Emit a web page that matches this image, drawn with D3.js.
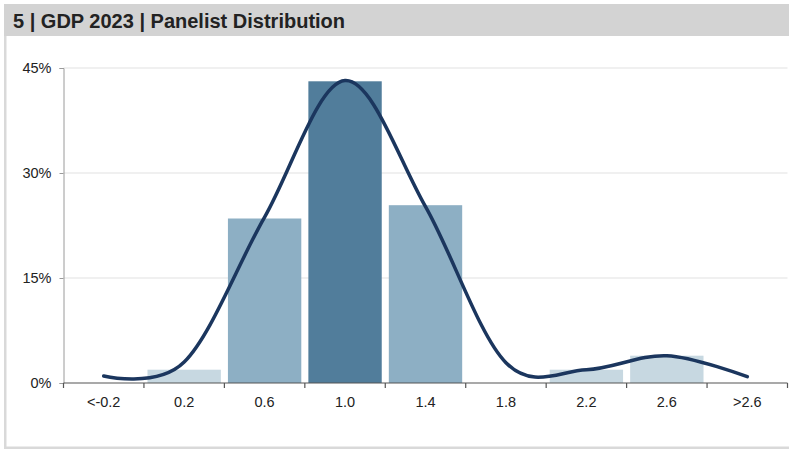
<!DOCTYPE html>
<html>
<head>
<meta charset="utf-8">
<script src="https://cdn.jsdelivr.net/npm/d3@7"></script>
<style>
  html, body { margin: 0; padding: 0; background: #fff; }
  svg { display: block; font-family: "Liberation Sans", Arial, sans-serif; }
</style>
</head>
<body>
<svg id="chart" width="789" height="450"></svg>
<script>
// Forecast bins for GDP growth 2023
const categories = ["<-0.2", "0.2", "0.6", "1.0", "1.4", "1.8", "2.2", "2.6", ">2.6"];
// Share of panelists per bin (%)
const shares = [0, 1.9, 23.5, 43.1, 25.4, 0, 1.9, 3.9, 0];
// Smoothed distribution line (%), one value per bin
const smoothed = [1.0, 3.0, 23.7, 43.2, 25.2, 2.9, 1.9, 3.9, 0.9];
// Shade group per bin: 0 light, 1 medium, 2 dark (the modal bin)
const shadeGroup = [0, 0, 1, 2, 1, 0, 0, 0, 0];
const yTicks = [0, 15, 30, 45];

const shadeColors = ["#c7d8e1", "#8dafc4", "#517d9b"];
const lineColor = "#1b365e";

const svg = d3.select("#chart");
const W = 789, H = 450;

// Panel frame: grey header band and left/bottom rules
svg.append("rect").attr("x", 4).attr("y", 4).attr("width", W - 4).attr("height", 32).attr("fill", "#d3d3d3");
svg.append("rect").attr("x", 4).attr("y", 36).attr("width", 2.5).attr("height", 413).attr("fill", "#d9d9d9");
svg.append("rect").attr("x", 4).attr("y", 446.5).attr("width", W - 4).attr("height", 2.5).attr("fill", "#d9d9d9");

svg.append("text")
  .attr("x", 13).attr("y", 27.5)
  .attr("font-size", 20).attr("font-weight", "bold").attr("fill", "#222")
  .text("5 | GDP 2023 | Panelist Distribution");

const plot = { left: 63.5, right: 787.5, top: 68, bottom: 383 };

const x = d3.scaleBand()
  .domain(categories)
  .range([plot.left, plot.right])
  .paddingInner(0.088)
  .paddingOuter(0.044);

const xPos = d3.scalePoint()
  .domain(categories)
  .range([plot.left, plot.right])
  .padding(0.5);

const y = d3.scaleLinear().domain([0, 45]).range([plot.bottom, plot.top]);

// Horizontal gridlines
svg.append("g")
  .selectAll("line")
  .data(yTicks.filter(d => d > 0))
  .join("line")
  .attr("x1", plot.left).attr("x2", plot.right)
  .attr("y1", d => y(d)).attr("y2", d => y(d))
  .attr("stroke", "#e1e1e1").attr("stroke-width", 1);

// Y axis
const yAxis = svg.append("g")
  .attr("transform", `translate(${plot.left},0)`)
  .call(d3.axisLeft(y).tickValues(yTicks).tickFormat(d => d + "%").tickSize(4).tickPadding(8));
yAxis.select(".domain").attr("stroke", "#9a9a9a");
yAxis.selectAll(".tick line").attr("stroke", "#9a9a9a");
yAxis.selectAll("text").attr("font-size", 14.5).attr("fill", "#222")
  .attr("font-family", "'Liberation Sans', Arial, sans-serif");

// Bars
svg.append("g")
  .selectAll("rect")
  .data(categories.map((c, i) => ({ c, v: shares[i], g: shadeGroup[i] })).filter(d => d.v > 0))
  .join("rect")
  .attr("x", d => x(d.c))
  .attr("width", x.bandwidth())
  .attr("y", d => y(d.v))
  .attr("height", d => y(0) - y(d.v))
  .attr("fill", d => shadeColors[d.g]);

// X axis with ticks at bin boundaries
const step = x.step();
const boundaries = d3.range(categories.length + 1).map(i => plot.left + i * step);
const xAxisG = svg.append("g");
xAxisG.append("line")
  .attr("x1", plot.left).attr("x2", plot.right)
  .attr("y1", plot.bottom).attr("y2", plot.bottom)
  .attr("stroke", "#555").attr("stroke-width", 1.2);
xAxisG.selectAll("line.tk")
  .data(boundaries)
  .join("line")
  .attr("class", "tk")
  .attr("x1", d => d).attr("x2", d => d)
  .attr("y1", plot.bottom).attr("y2", plot.bottom + 5)
  .attr("stroke", "#555").attr("stroke-width", 1.2);
xAxisG.selectAll("text")
  .data(categories)
  .join("text")
  .attr("x", d => xPos(d))
  .attr("y", 407)
  .attr("text-anchor", "middle")
  .attr("font-size", 14.5).attr("fill", "#222")
  .text(d => d);

// Smoothed distribution line
const line = d3.line()
  .x((d, i) => xPos(categories[i]))
  .y(d => y(d))
  .curve(d3.curveCardinal.tension(0));

svg.append("path")
  .datum(smoothed)
  .attr("d", line)
  .attr("fill", "none")
  .attr("stroke", lineColor)
  .attr("stroke-width", 3.5)
  .attr("stroke-linecap", "round");
</script>
</body>
</html>
